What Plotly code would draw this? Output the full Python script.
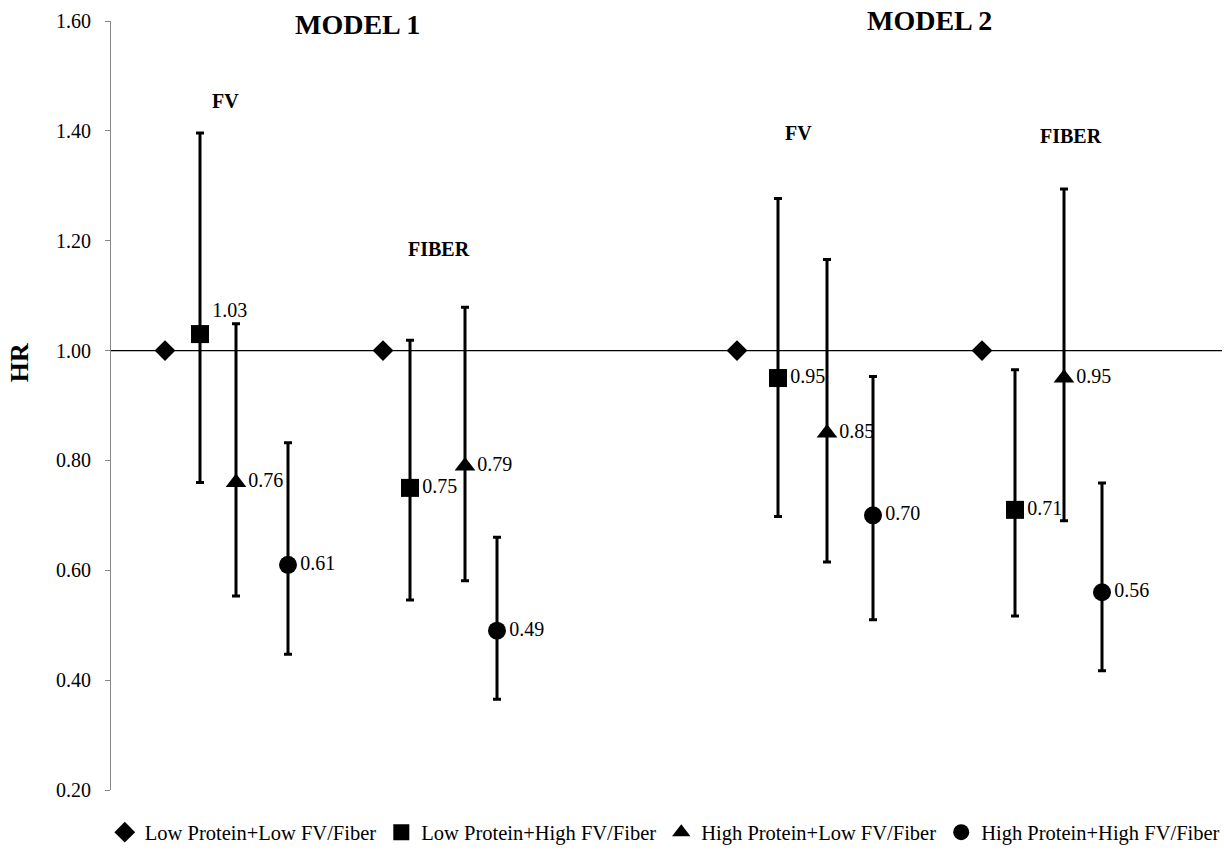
import plotly.graph_objects as go

# ---- data ----
# x positions of each marker along the (hidden) horizontal scale
x_ref = [5.4, 27.2, 62.6, 87.1]
x_lphf = [8.9, 29.9, 66.7, 90.4]
x_hplf = [12.5, 35.4, 71.6, 95.3]
x_hphf = [17.7, 38.6, 76.2, 99.1]

hr_ref = [1.00, 1.00, 1.00, 1.00]

hr_lphf = [1.03, 0.75, 0.95, 0.71]
lo_lphf = [0.760, 0.546, 0.698, 0.517]
hi_lphf = [1.396, 1.019, 1.277, 0.965]

hr_hplf = [0.76, 0.79, 0.85, 0.95]
lo_hplf = [0.553, 0.581, 0.615, 0.690]
hi_hplf = [1.049, 1.079, 1.166, 1.294]

hr_hphf = [0.61, 0.49, 0.70, 0.56]
lo_hphf = [0.447, 0.365, 0.510, 0.417]
hi_hphf = [0.832, 0.660, 0.953, 0.759]

series_names = [
    "Low Protein+Low FV/Fiber",
    "Low Protein+High FV/Fiber",
    "High Protein+Low FV/Fiber",
    "High Protein+High FV/Fiber",
]

y_ticks = [0.20, 0.40, 0.60, 0.80, 1.00, 1.20, 1.40, 1.60]

# headings: text, x (data), y (paper), size
heading_text = ["MODEL 1", "MODEL 2", "FV", "FIBER", "FV", "FIBER"]
heading_x = [24.6, 81.8, 11.4, 32.8, 68.7, 96.0]
heading_y = [0.995, 1.001, 0.896, 0.704, 0.854, 0.850]
heading_size = [28, 28, 20, 20, 20, 20]

FONT = "Liberation Serif, Times New Roman, serif"
LABEL_SIZE = 20

fig = go.Figure()


def err(hr, lo, hi):
    return dict(
        type="data",
        symmetric=False,
        array=[h - v for h, v in zip(hi, hr)],
        arrayminus=[v - l for v, l in zip(hr, lo)],
        color="black",
        thickness=3,
        width=4,
    )


fig.add_trace(go.Scatter(
    x=x_ref, y=hr_ref, mode="markers", name=series_names[0],
    marker=dict(symbol="diamond", size=16, color="black"),
))

fig.add_trace(go.Scatter(
    x=x_lphf, y=hr_lphf, mode="markers+text", name=series_names[1],
    marker=dict(symbol="square", size=18, color="black"),
    error_y=err(hr_lphf, lo_lphf, hi_lphf),
    text=[f"{v:.2f}" for v in hr_lphf],
    textposition=["top right", "middle right", "middle right", "middle right"],
    textfont=dict(family=FONT, size=LABEL_SIZE, color="black"),
    cliponaxis=False,
))

fig.add_trace(go.Scatter(
    x=x_hplf, y=hr_hplf, mode="markers+text", name=series_names[2],
    marker=dict(symbol="triangle-up", size=18, color="black"),
    error_y=err(hr_hplf, lo_hplf, hi_hplf),
    text=[f"{v:.2f}" for v in hr_hplf],
    textposition="middle right",
    textfont=dict(family=FONT, size=LABEL_SIZE, color="black"),
    cliponaxis=False,
))

fig.add_trace(go.Scatter(
    x=x_hphf, y=hr_hphf, mode="markers+text", name=series_names[3],
    marker=dict(symbol="circle", size=18, color="black"),
    error_y=err(hr_hphf, lo_hphf, hi_hphf),
    text=[f"{v:.2f}" for v in hr_hphf],
    textposition="middle right",
    textfont=dict(family=FONT, size=LABEL_SIZE, color="black"),
    cliponaxis=False,
))

# reference line at HR = 1
fig.add_shape(type="line", xref="paper", x0=0, x1=1, yref="y", y0=1, y1=1,
              line=dict(color="black", width=1.3), layer="below")

for txt, hx, hy, fs in zip(heading_text, heading_x, heading_y, heading_size):
    fig.add_annotation(x=hx, y=hy, xref="x", yref="paper", text=f"<b>{txt}</b>",
                       showarrow=False, font=dict(family=FONT, size=fs, color="black"),
                       xanchor="center", yanchor="middle")

# y-axis title (placed near the HR = 1 level as in the reference)
fig.add_annotation(x=-0.082, y=0.556, xref="paper", yref="paper", text="<b>HR</b>",
                   textangle=-90, showarrow=False,
                   font=dict(family=FONT, size=26, color="black"),
                   xanchor="center", yanchor="middle")

fig.update_layout(
    width=1224, height=850,
    margin=dict(l=111, r=2, t=21, b=60, autoexpand=False),
    paper_bgcolor="white", plot_bgcolor="white",
    font=dict(family=FONT, color="black"),
    showlegend=True,
    legend=dict(orientation="h", x=-0.0056, xanchor="left",
                y=-0.029, yanchor="top",
                font=dict(family=FONT, size=20.5, color="black"),
                itemwidth=30, tracegroupgap=0, bgcolor="rgba(0,0,0,0)"),
    xaxis=dict(range=[0, 111.1], visible=False, showgrid=False, zeroline=False),
    yaxis=dict(
        range=[0.2, 1.6], tickvals=y_ticks, ticktext=[f"{v:.2f}" for v in y_ticks],
        showgrid=False, zeroline=False, showline=True, linecolor="#868686", linewidth=1,
        ticks="outside", ticklen=5, tickcolor="#868686",
        tickfont=dict(family=FONT, size=20, color="black"),
        ticklabelstandoff=10,
    ),
)

fig.write_html("out.html", config={"displayModeBar": False},
               post_script="document.body.style.margin='0';")
